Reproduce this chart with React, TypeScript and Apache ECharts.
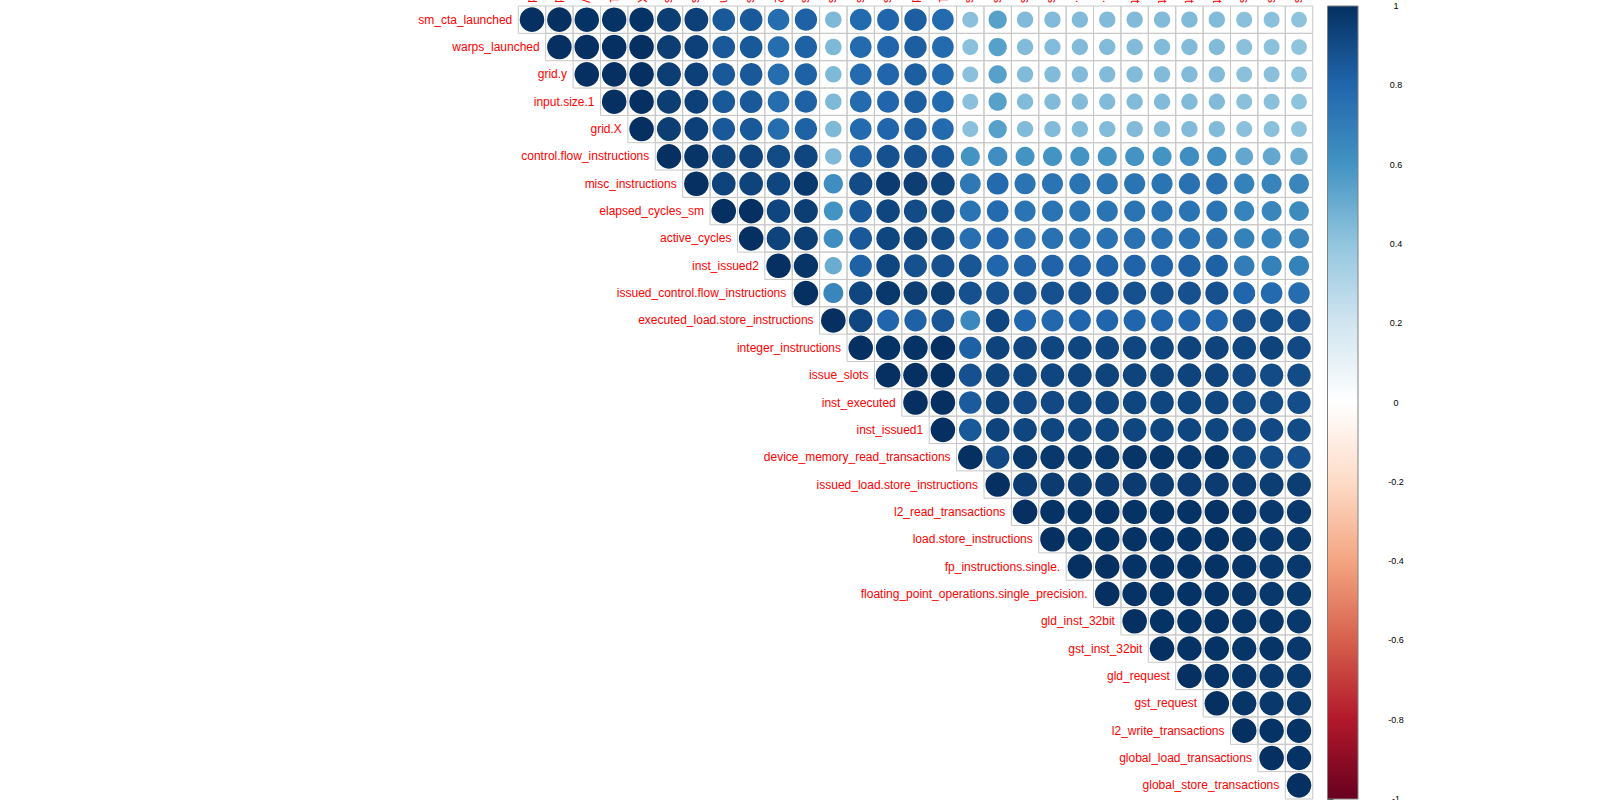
import React, { useEffect, useRef } from "react";
import * as echarts from "echarts";

const variables = [
  "sm_cta_launched",
  "warps_launched",
  "grid.y",
  "input.size.1",
  "grid.X",
  "control.flow_instructions",
  "misc_instructions",
  "elapsed_cycles_sm",
  "active_cycles",
  "inst_issued2",
  "issued_control.flow_instructions",
  "executed_load.store_instructions",
  "integer_instructions",
  "issue_slots",
  "inst_executed",
  "inst_issued1",
  "device_memory_read_transactions",
  "issued_load.store_instructions",
  "l2_read_transactions",
  "load.store_instructions",
  "fp_instructions.single.",
  "floating_point_operations.single_precision.",
  "gld_inst_32bit",
  "gst_inst_32bit",
  "gld_request",
  "gst_request",
  "l2_write_transactions",
  "global_load_transactions",
  "global_store_transactions",
];

// Row i holds the correlations of variable i with variables i..28 (upper triangle).
const corrRows: number[][] = [
  [1, 1, 0.99, 0.99, 0.99, 0.95, 0.94, 0.85, 0.85, 0.77, 0.82, 0.45, 0.78, 0.8, 0.83, 0.78, 0.42, 0.55, 0.44, 0.44, 0.44, 0.44, 0.44, 0.44, 0.44, 0.44, 0.42, 0.42, 0.41],
  [1, 1, 1, 1, 0.95, 0.94, 0.85, 0.85, 0.77, 0.82, 0.45, 0.78, 0.8, 0.83, 0.78, 0.42, 0.55, 0.44, 0.44, 0.44, 0.44, 0.44, 0.44, 0.44, 0.44, 0.42, 0.42, 0.41],
  [1, 1, 1, 0.95, 0.94, 0.85, 0.85, 0.77, 0.82, 0.45, 0.78, 0.8, 0.83, 0.78, 0.42, 0.55, 0.44, 0.44, 0.44, 0.44, 0.44, 0.44, 0.44, 0.44, 0.42, 0.42, 0.41],
  [1, 1, 0.95, 0.94, 0.85, 0.85, 0.77, 0.82, 0.45, 0.78, 0.8, 0.83, 0.78, 0.42, 0.55, 0.44, 0.44, 0.44, 0.44, 0.44, 0.44, 0.44, 0.44, 0.42, 0.42, 0.41],
  [1, 0.95, 0.94, 0.85, 0.85, 0.77, 0.82, 0.45, 0.78, 0.8, 0.83, 0.78, 0.42, 0.55, 0.44, 0.44, 0.44, 0.44, 0.44, 0.44, 0.44, 0.44, 0.42, 0.42, 0.41],
  [1, 0.98, 0.93, 0.93, 0.9, 0.92, 0.45, 0.82, 0.88, 0.88, 0.85, 0.6, 0.62, 0.6, 0.6, 0.6, 0.6, 0.6, 0.6, 0.62, 0.62, 0.52, 0.52, 0.5],
  [1, 0.93, 0.93, 0.92, 0.97, 0.62, 0.9, 0.96, 0.95, 0.93, 0.72, 0.78, 0.74, 0.74, 0.74, 0.74, 0.74, 0.74, 0.75, 0.75, 0.68, 0.67, 0.66],
  [1, 1, 0.92, 0.95, 0.6, 0.85, 0.92, 0.9, 0.9, 0.74, 0.78, 0.74, 0.74, 0.74, 0.74, 0.74, 0.74, 0.74, 0.74, 0.67, 0.66, 0.64],
  [1, 0.93, 0.95, 0.62, 0.85, 0.92, 0.93, 0.9, 0.76, 0.8, 0.75, 0.75, 0.75, 0.75, 0.75, 0.75, 0.75, 0.75, 0.68, 0.67, 0.66],
  [1, 0.98, 0.5, 0.82, 0.92, 0.88, 0.88, 0.86, 0.8, 0.81, 0.81, 0.81, 0.81, 0.81, 0.81, 0.82, 0.82, 0.7, 0.68, 0.68],
  [1, 0.66, 0.92, 0.97, 0.95, 0.95, 0.88, 0.88, 0.88, 0.88, 0.88, 0.88, 0.88, 0.88, 0.88, 0.88, 0.8, 0.78, 0.77],
  [1, 0.92, 0.8, 0.82, 0.86, 0.65, 0.92, 0.8, 0.79, 0.8, 0.8, 0.8, 0.8, 0.8, 0.8, 0.88, 0.89, 0.88],
  [1, 0.99, 0.99, 1, 0.82, 0.93, 0.92, 0.92, 0.92, 0.92, 0.92, 0.92, 0.93, 0.93, 0.92, 0.93, 0.91],
  [1, 1, 1, 0.88, 0.93, 0.92, 0.92, 0.93, 0.93, 0.93, 0.93, 0.93, 0.93, 0.91, 0.9, 0.9],
  [1, 1, 0.84, 0.93, 0.91, 0.91, 0.92, 0.92, 0.92, 0.92, 0.92, 0.92, 0.9, 0.9, 0.89],
  [1, 0.85, 0.93, 0.92, 0.92, 0.92, 0.92, 0.92, 0.92, 0.92, 0.92, 0.91, 0.91, 0.9],
  [1, 0.91, 0.97, 0.97, 0.97, 0.97, 0.98, 0.98, 0.97, 0.98, 0.92, 0.9, 0.88],
  [1, 0.96, 0.96, 0.96, 0.96, 0.96, 0.96, 0.96, 0.96, 0.96, 0.95, 0.95],
  [1, 0.99, 0.99, 0.99, 0.99, 0.99, 0.99, 0.99, 0.98, 0.97, 0.97],
  [1, 0.99, 0.99, 0.99, 0.99, 0.99, 0.99, 0.98, 0.97, 0.97],
  [1, 1, 0.99, 0.99, 0.99, 0.99, 0.98, 0.97, 0.97],
  [1, 0.99, 0.99, 0.99, 0.99, 0.98, 0.97, 0.97],
  [1, 0.99, 0.99, 0.99, 0.98, 0.98, 0.97],
  [1, 0.99, 0.99, 0.98, 0.98, 0.97],
  [1, 0.99, 0.98, 0.97, 0.97],
  [1, 0.98, 0.97, 0.97],
  [1, 0.99, 0.99],
  [1, 0.99],
  [1],
];

const paletteColors = [
  "#67001F", "#B2182B", "#D6604D", "#F4A582", "#FDDBC7", "#FFFFFF",
  "#D1E5F0", "#92C5DE", "#4393C3", "#2166AC", "#053061",
];

const legendTickLabels = ["-1", "-0.8", "-0.6", "-0.4", "-0.2", "0", "0.2", "0.4", "0.6", "0.8", "1"];

const GRID_LEFT = 518.3;
const GRID_TOP = 6;
const GRID_W = 794.4;
const GRID_H = 793;

export default function App() {
  const ref = useRef<HTMLDivElement>(null);

  useEffect(() => {
    if (!ref.current) return;
    const chart = echarts.init(ref.current, undefined, { renderer: "svg" });

    const cells: number[][] = [];
    corrRows.forEach((row, i) => {
      row.forEach((v, k) => cells.push([i + k, i, v]));
    });
    const diag = variables.map((_, i) => [i, i]);

    const font = '"Liberation Sans", Arial, Helvetica, sans-serif';

    const option: any = {
      animation: false,
      backgroundColor: "#ffffff",
      grid: [
        { left: GRID_LEFT, top: GRID_TOP, width: GRID_W, height: GRID_H, containLabel: false, outerBoundsMode: "none" },
        { left: 1327.5, top: GRID_TOP, width: 30.5, height: GRID_H, containLabel: false, outerBoundsMode: "none" },
      ],
      xAxis: [
        {
          type: "category",
          data: variables,
          position: "top",
          gridIndex: 0,
          axisLine: { show: false },
          axisTick: { show: false },
          splitLine: { show: false },
          axisLabel: {
            rotate: 90,
            interval: 0,
            margin: 3,
            color: "#FF0000",
            fontSize: 12,
            fontFamily: font,
          },
        },
        { type: "value", gridIndex: 1, min: 0, max: 1, show: false },
      ],
      yAxis: [
        {
          type: "category",
          data: variables,
          inverse: true,
          gridIndex: 0,
          show: false,
        },
        {
          type: "value",
          gridIndex: 1,
          min: -1,
          max: 1,
          interval: 0.2,
          position: "right",
          axisLine: { show: false },
          splitLine: { show: false },
          axisTick: { show: true, length: 6, lineStyle: { color: "#444", width: 1 } },
          axisLabel: {
            margin: 38,
            align: "center",
            fontSize: 9,
            color: "#000",
            fontFamily: font,
            showMinLabel: true,
            showMaxLabel: true,
            formatter: (v: number) => legendTickLabels[Math.round((v + 1) / 0.2)] ?? "",
          },
        },
      ],
      visualMap: {
        type: "continuous",
        show: false,
        min: -1,
        max: 1,
        dimension: 2,
        seriesIndex: 1,
        inRange: { color: paletteColors },
      },
      series: [
        {
          type: "custom",
          xAxisIndex: 0,
          yAxisIndex: 0,
          data: cells,
          silent: true,
          renderItem: (params: any, api: any) => {
            const c = api.coord([api.value(0), api.value(1)]);
            const s = api.size([1, 1]);
            return {
              type: "rect",
              shape: { x: c[0] - s[0] / 2, y: c[1] - s[1] / 2, width: s[0], height: s[1] },
              style: { fill: "none", stroke: "#c8c8c8", lineWidth: 1 },
            };
          },
        },
        {
          type: "custom",
          xAxisIndex: 0,
          yAxisIndex: 0,
          data: cells,
          silent: true,
          renderItem: (params: any, api: any) => {
            const c = api.coord([api.value(0), api.value(1)]);
            const s = api.size([1, 1]);
            const v = api.value(2);
            const r = 0.45 * Math.sqrt(Math.abs(v)) * Math.min(s[0], s[1]);
            return {
              type: "circle",
              shape: { cx: c[0], cy: c[1], r },
              style: { fill: api.visual("color") },
            };
          },
        },
        {
          type: "custom",
          xAxisIndex: 0,
          yAxisIndex: 0,
          data: diag,
          silent: true,
          renderItem: (params: any, api: any) => {
            const i = api.value(1);
            const c = api.coord([api.value(0), i]);
            const s = api.size([1, 1]);
            return {
              type: "text",
              x: c[0] - s[0] / 2 - 6,
              y: c[1],
              style: {
                text: variables[i],
                fill: "#FF0000",
                fontSize: 12,
                fontFamily: font,
                align: "right",
                verticalAlign: "middle",
              },
            };
          },
        },
        {
          type: "custom",
          xAxisIndex: 1,
          yAxisIndex: 1,
          data: [[0]],
          silent: true,
          renderItem: (params: any, api: any) => {
            const p0 = api.coord([0, 1]);
            const p1 = api.coord([1, -1]);
            const stops = paletteColors
              .slice()
              .reverse()
              .map((color, k) => ({ offset: k / (paletteColors.length - 1), color }));
            return {
              type: "rect",
              shape: { x: p0[0], y: p0[1], width: p1[0] - p0[0], height: p1[1] - p0[1] },
              style: {
                fill: new echarts.graphic.LinearGradient(0, 0, 0, 1, stops),
                stroke: "#808080",
                lineWidth: 1,
              },
            };
          },
        },
      ],
    };

    chart.setOption(option);
    return () => chart.dispose();
  }, []);

  return (
    <div
      ref={ref}
      style={{ position: "fixed", left: 0, top: 0, width: 1600, height: 800, background: "#fff" }}
    />
  );
}
